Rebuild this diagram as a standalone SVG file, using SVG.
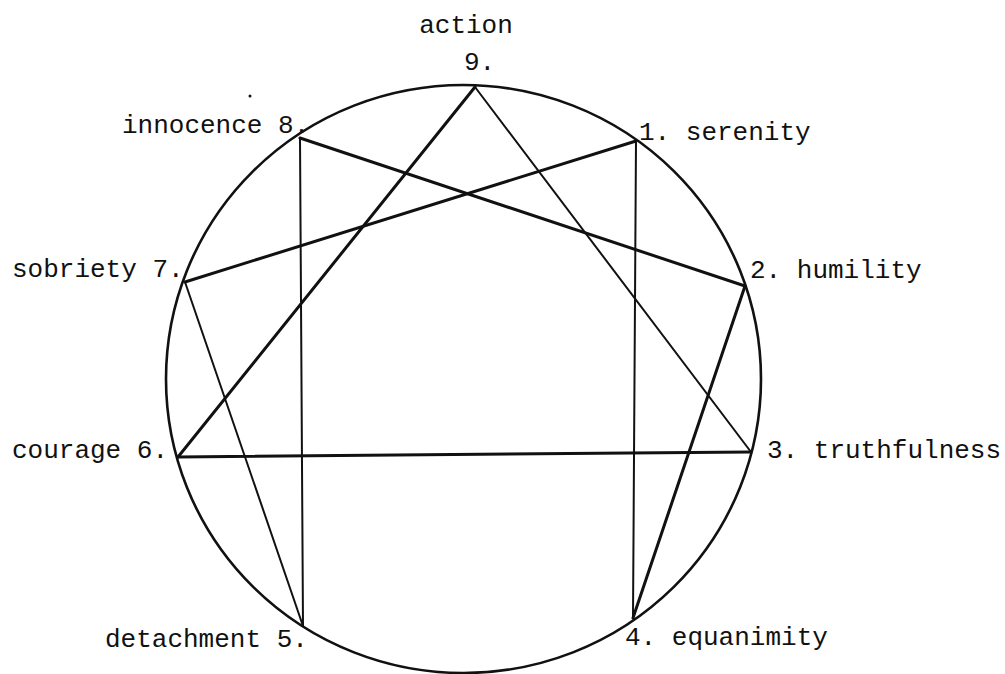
<svg xmlns="http://www.w3.org/2000/svg" width="1005" height="674" viewBox="0 0 1005 674">
<style>
.lbl{font-family:"Liberation Mono","DejaVu Sans Mono",monospace;font-size:26px;fill:#111}
.ring{fill:none;stroke:#111;stroke-width:2.6}
.thick{stroke:#111;stroke-width:3;fill:none;stroke-linecap:round}
.thin{stroke:#111;stroke-width:2;fill:none;stroke-linecap:round}
</style>
<rect width="1005" height="674" fill="#fff"/>
<ellipse class="ring" cx="463.5" cy="379" rx="297.5" ry="294"/>
<g id="connectors">
<line class="thick" x1="475" y1="87" x2="178" y2="457"/>
<line class="thin" x1="475" y1="87" x2="751" y2="452"/>
<line class="thick" x1="178" y1="457" x2="751" y2="452"/>
<line class="thick" x1="300" y1="138" x2="745" y2="286"/>
<line class="thick" x1="636" y1="141" x2="185" y2="282"/>
<line class="thin" x1="300" y1="138" x2="303" y2="626"/>
<line class="thin" x1="636" y1="141" x2="633" y2="618"/>
<line class="thin" x1="185" y1="282" x2="303" y2="626"/>
<line class="thick" x1="745" y1="286" x2="633" y2="618"/>
</g>
<g id="n9"><text class="lbl" x="466" y="33" text-anchor="middle">action</text><text class="lbl" x="464" y="70">9.</text></g>
<g id="n1"><text class="lbl" x="639" y="140">1. serenity</text></g>
<g id="n2"><text class="lbl" x="750" y="278">2. humility</text></g>
<g id="n3"><text class="lbl" x="767" y="458">3. truthfulness</text></g>
<g id="n4"><text class="lbl" x="625" y="645">4. equanimity</text></g>
<g id="n5"><text class="lbl" x="105" y="647">detachment 5.</text></g>
<g id="n6"><text class="lbl" x="12" y="458">courage 6.</text></g>
<g id="n7"><text class="lbl" x="12" y="277">sobriety 7.</text></g>
<g id="n8"><text class="lbl" x="122" y="133">innocence 8.</text></g>
<circle cx="250" cy="96" r="1.5" fill="#111"/>
</svg>
